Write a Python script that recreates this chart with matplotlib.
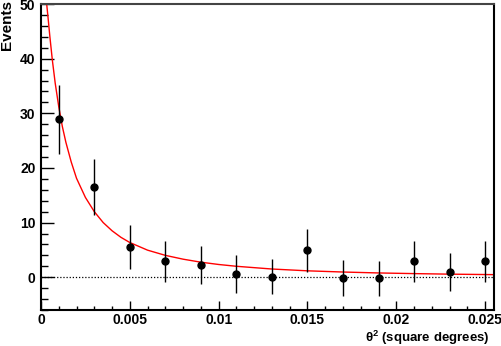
import matplotlib
matplotlib.use("Agg")
import matplotlib.pyplot as plt
from matplotlib.ticker import MultipleLocator

plt.rcParams['font.family'] = ['Liberation Sans', 'DejaVu Sans']
plt.rcParams['mathtext.fontset'] = 'custom'
plt.rcParams['mathtext.rm'] = 'Liberation Sans:bold'
plt.rcParams['mathtext.bf'] = 'Liberation Sans:bold'

# measured points (theta^2 bins) with errors
theta2 = [0.001, 0.003, 0.005, 0.007, 0.009, 0.011, 0.013,
          0.015, 0.017, 0.019, 0.021, 0.023, 0.025]
events = [28.9, 16.5, 5.5, 2.9, 2.2, 0.6, 0.1,
          4.9, -0.1, -0.2, 2.9, 0.9, 2.9]
errors = [6.3, 5.1, 4.05, 3.7, 3.5, 3.4, 3.25,
          3.9, 3.3, 3.2, 3.7, 3.5, 3.7]

# fitted curve
fit_x = [0.00032, 0.0004, 0.0005, 0.00064, 0.0008, 0.001, 0.0012, 0.0014,
         0.0017, 0.002, 0.0025, 0.003, 0.0035, 0.004, 0.0045, 0.005, 0.006,
         0.007, 0.008, 0.009, 0.010, 0.011, 0.013, 0.015, 0.017, 0.019,
         0.021, 0.023, 0.025, 0.0255]
fit_y = [50.0, 47.4, 44.0, 39.7, 35.5, 31.2, 27.6, 24.7,
         21.1, 18.1, 14.6, 12.0, 10.0, 8.5, 7.3, 6.35, 4.95,
         4.0, 3.3, 2.75, 2.33, 2.0, 1.5, 1.17, 0.95, 0.78,
         0.66, 0.56, 0.49, 0.47]

fig = plt.figure(figsize=(5.02, 3.46), dpi=100)
ax = fig.add_axes([41 / 502, 1 - 310 / 346, 453 / 502, 306 / 346])

ax.axhline(0, color='black', lw=0.9, ls=(0, (1, 1.5)))
ax.plot(fit_x, fit_y, color='red', lw=1.0)
ax.errorbar(theta2, events, yerr=errors, fmt='o', color='black',
            ms=5, elinewidth=1.0, capsize=0)

ax.set_xlim(0, 0.0255)
ax.set_ylim(-6, 50)
ax.xaxis.set_minor_locator(MultipleLocator(0.001))
ax.yaxis.set_major_locator(MultipleLocator(10))
ax.yaxis.set_minor_locator(MultipleLocator(2))
ax.set_xticks([0, 0.005, 0.01, 0.015, 0.02, 0.025])
ax.set_xticklabels(['0', '0.005', '0.01', '0.015', '0.02', '0.025'])

ax.tick_params(axis='x', which='major', direction='in', length=6.5, width=1, pad=2)
ax.tick_params(axis='x', which='minor', direction='in', length=3.2, width=1)
ax.tick_params(axis='y', which='major', direction='in', length=9.4, width=1, pad=4)
ax.tick_params(axis='y', which='minor', direction='in', length=5, width=1)
for lbl in ax.get_xticklabels() + ax.get_yticklabels():
    lbl.set_fontsize(10)
    lbl.set_fontweight('bold')

for side in ['left', 'bottom', 'right']:
    ax.spines[side].set_linewidth(1.5)
ax.spines['top'].set_linewidth(1.5)
ax.spines['top'].set_color('#444444')

fig.text(0.0, 1.0, 'Events', rotation=90, ha='left', va='top',
         fontsize=11, fontweight='bold')
fig.text(490 / 502, 1 - 342 / 346, 'θ$^2$ (square degrees)',
         ha='right', va='baseline', fontsize=9.5, fontweight='bold')

fig.savefig('out.png', dpi=100)
